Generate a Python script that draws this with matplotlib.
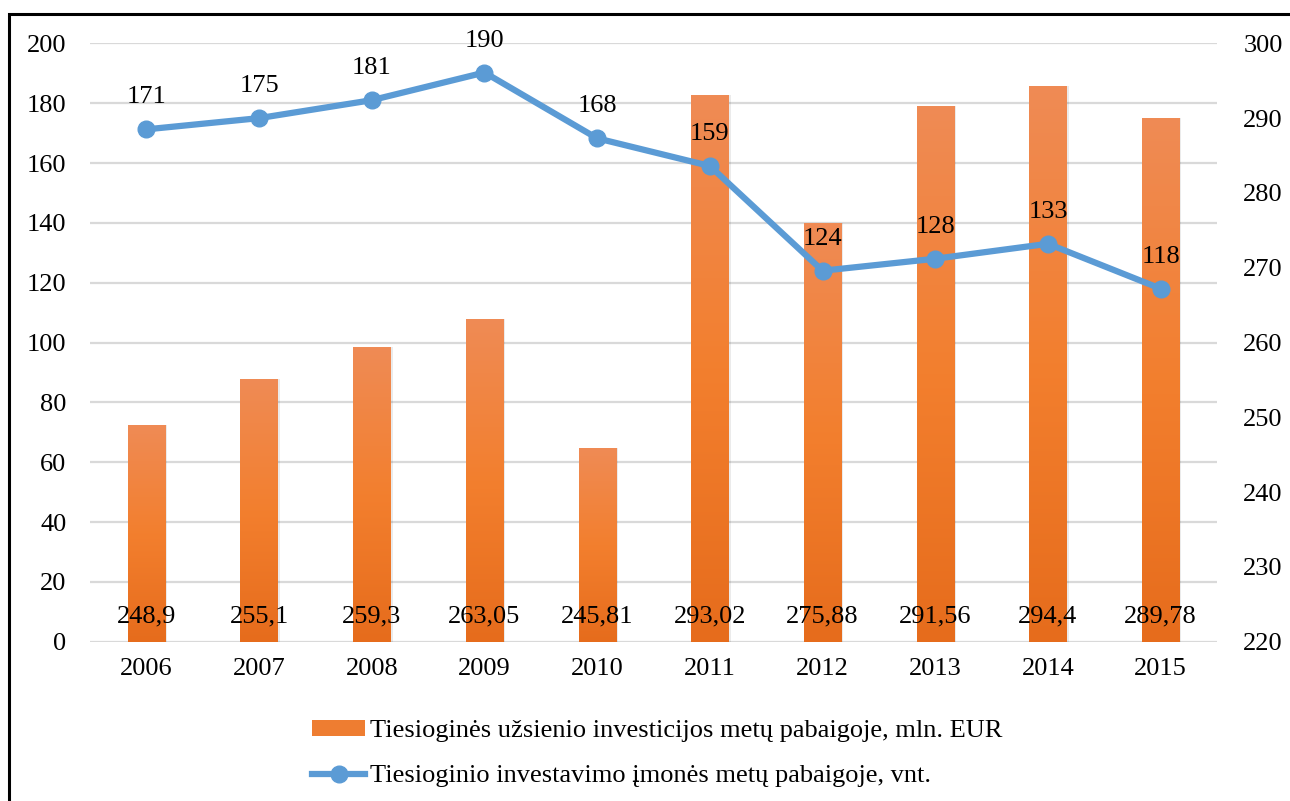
import numpy as np
import matplotlib
matplotlib.use("Agg")
from matplotlib import pyplot as plt
from matplotlib.lines import Line2D
from matplotlib.patches import Patch, Rectangle
from matplotlib.colors import LinearSegmentedColormap

plt.rcParams['font.family'] = ['Liberation Serif', 'DejaVu Serif']

years = ['2006', '2007', '2008', '2009', '2010', '2011', '2012', '2013', '2014', '2015']
# bars on left axis
investicijos = [72.4, 87.7, 98.5, 107.9, 64.7, 182.7, 139.9, 179.1, 185.9, 174.9]
investicijos_lbl = ['248,9', '255,1', '259,3', '263,05', '245,81', '293,02', '275,88', '291,56', '294,4', '289,78']
# line on right axis
imones = [288.5, 290.0, 292.4, 296.1, 287.3, 283.6, 269.6, 271.2, 273.2, 267.2]
imones_lbl = ['171', '175', '181', '190', '168', '159', '124', '128', '133', '118']

orange = '#EE7D31'
blue = '#5B9BD5'
fs = 19

fig = plt.figure(figsize=(12.9, 8.01), dpi=100)
ax = fig.add_axes([0.0698, 0.1989, 0.8736, 0.747])
ax2 = ax.twinx()

x = np.arange(len(years))
bars = ax.bar(x, investicijos, width=0.33, color=orange, zorder=2)

# gradient fill, lighter on top
cmap = LinearSegmentedColormap.from_list('or', ['#E66C1C', '#F37F2E', '#EF8B55'])
grad = np.linspace(0, 1, 256).reshape(-1, 1)
for b in bars:
    x0, w, h = b.get_x(), b.get_width(), b.get_height()
    im = ax.imshow(grad, extent=[x0, x0 + w, 0, h], origin='lower', cmap=cmap,
                   aspect='auto', zorder=2.1)
    im.set_clip_path(b)
    # soft shadow on the right
    ax.add_patch(Rectangle((x0 + w, 0), 0.02, h, color='#000000', alpha=0.08, zorder=1.9, lw=0))

for xi, lbl in zip(x, investicijos_lbl):
    ax.annotate(lbl, (xi, 0), xytext=(0, 18), textcoords='offset points',
                ha='center', va='center', fontsize=fs, zorder=5)

ax.set_xlim(-0.5, len(years) - 0.5)
ax.set_ylim(0, 200)
ax.set_yticks(range(0, 201, 20))
ax.yaxis.grid(True, color='#D9D9D9', lw=1.6, zorder=0)
ax.set_axisbelow(True)
ax.set_xticks(x)
ax.set_xticklabels(years)

ax2.plot(x, imones, color=blue, lw=4.5, marker='o', ms=12, zorder=4,
         solid_capstyle='round')
for xi, yi, lbl in zip(x, imones, imones_lbl):
    ax2.annotate(lbl, (xi, yi), xytext=(0, 23), textcoords='offset points',
                 ha='center', va='center', fontsize=fs, zorder=5)
ax2.set_ylim(220, 300)
ax2.set_yticks(range(220, 301, 10))

ax.set_zorder(ax2.get_zorder() - 1)
ax.patch.set_visible(False)

for a in (ax, ax2):
    for s in a.spines.values():
        s.set_visible(False)
    a.tick_params(length=0, labelsize=fs)
ax.tick_params(axis='y', pad=17)
ax.tick_params(axis='x', pad=12)
ax2.tick_params(axis='y', pad=19)

# outer frame
fig.patches.append(Rectangle((9 / 1290, -0.1), 1.2, 1.1 - 14 / 801, transform=fig.transFigure,
                             fill=False, ec='black', lw=2.2))

handles = [Patch(facecolor=orange, edgecolor='none'),
           Line2D([0], [0], color=blue, lw=4.5, marker='o', ms=12)]
labels = ['Tiesioginės užsienio investicijos metų pabaigoje, mln. EUR',
          'Tiesioginio investavimo įmonės metų pabaigoje, vnt.']
fig.legend(handles, labels, loc='upper left', bbox_to_anchor=(299 / 1290, 1 - 707 / 801),
           frameon=False, fontsize=fs, handlelength=2.0, handleheight=0.55,
           handletextpad=0.2, labelspacing=0.85, borderpad=0)

fig.savefig('out.png', dpi=100)
